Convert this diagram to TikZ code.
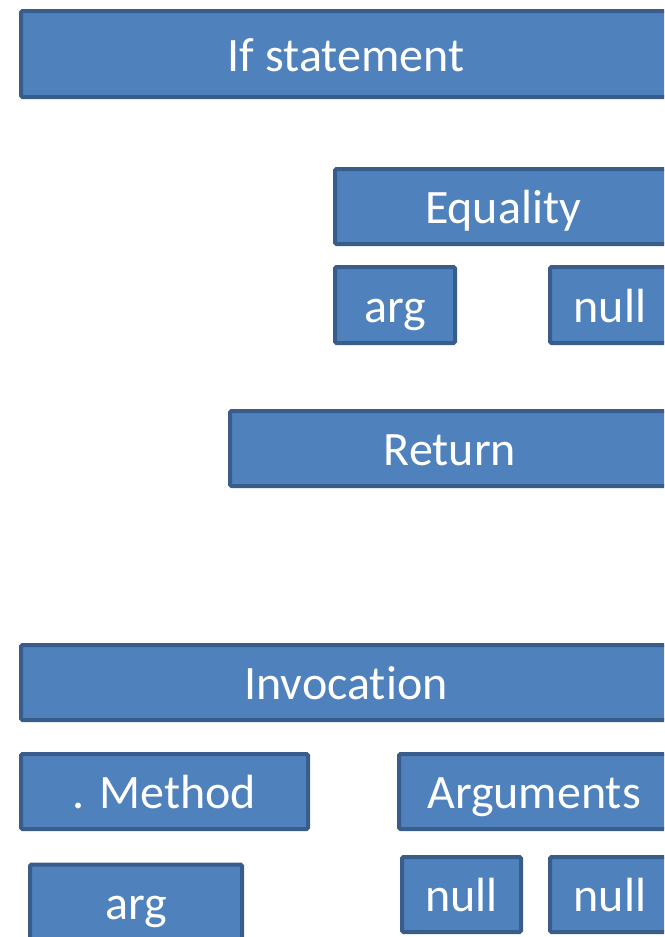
\documentclass[tikz,border=0pt]{standalone}
\usepackage{fontspec}
\setmainfont[Ligatures={NoCommon}]{Carlito}
\definecolor{boxfill}{RGB}{79,129,189}
\definecolor{boxline}{RGB}{56,93,138}
\begin{document}
\begin{tikzpicture}[x=1pt,y=-1pt,
  blok/.style={draw=boxline,fill=boxfill,line width=4pt,rounded corners=1.5pt,
    text=white,font=\fontsize{48}{54}\selectfont,inner sep=0pt,
    text height=34pt,text depth=0pt}]
\useasboundingbox (0,0) rectangle (664,937);
\clip (0,0) rectangle (664,937);

% if statement
\node[blok,minimum width=650,minimum height=86] (ifst) at (346,54) {If statement};

% condition
\node[blok,minimum width=336,minimum height=75] (equal) at (503,206.5) {Equality};
\node[blok,minimum width=120,minimum height=76] (arga) at (395,305) {arg};
\node[blok,minimum width=120,minimum height=76] (nulla) at (610,305) {null};

% body
\node[blok,minimum width=440,minimum height=75] (ret) at (450,448.5) {Return};

% invocation
\node[blok,minimum width=650,minimum height=75] (invoc) at (346,682.5) {Invocation};
\node[blok,minimum width=287,minimum height=75] (meth) at (164.5,791.5) {. Method};
\node[blok,minimum width=270,minimum height=75] (args) at (534,791.5) {Arguments};
\node[blok,minimum width=212,minimum height=75] (argb) at (136,902) {arg};
\node[blok,minimum width=119,minimum height=75] (nullb) at (461.5,894.5) {null};
\node[blok,minimum width=120,minimum height=75] (nullc) at (610,894.5) {null};
\end{tikzpicture}
\end{document}
